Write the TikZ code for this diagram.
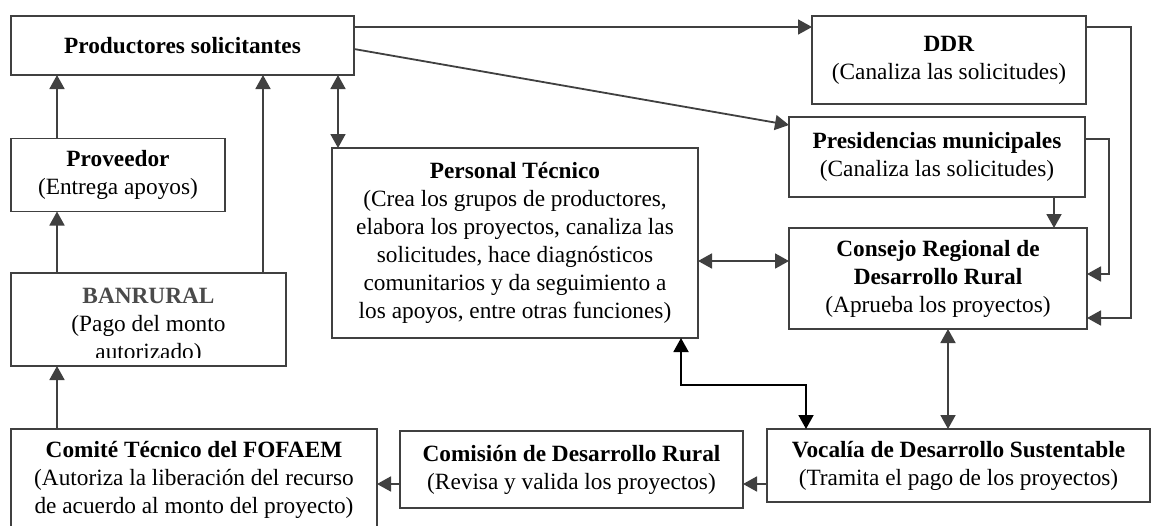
\documentclass[tikz,border=0pt]{standalone}
\usepackage{fontspec}
\setmainfont{Liberation Serif}
\usetikzlibrary{arrows.meta,calc}
\definecolor{lc}{HTML}{404040}
\definecolor{bantxt}{HTML}{4A4A4A}
\tikzset{
  box/.style={draw=lc, line width=1.8pt, outer sep=0pt, inner sep=0pt, align=center,
    font=\fontsize{23.3}{28}\selectfont},
  tip/.tip={Triangle[length=14pt,width=15pt]},
  arr/.style={draw=lc, line width=1.8pt, -tip},
  darr/.style={draw=lc, line width=1.8pt, tip-tip},
  barr/.style={draw=black, line width=1.9pt, tip-tip},
  ln/.style={draw=lc, line width=1.8pt}
}
\begin{document}
\begin{tikzpicture}[x=1pt,y=-1pt]
\clip (0,0) rectangle (1151,525);
\fill[white] (0,0) rectangle (1151,525);
% boxes
\node[box, minimum width=343, minimum height=59] (prod) at (182.5,45.5) {\textbf{Productores solicitantes}};
\node[box, minimum width=214, minimum height=73] (prov) at (118,175) {\textbf{Proveedor}\\(Entrega apoyos)};
\node[box, minimum width=275, minimum height=93] (ban) at (148.5,319.5) {};
\begin{scope}
\clip (11,273) rectangle (286,357);
\node[align=center, inner sep=0pt, font=\fontsize{23.3}{28}\selectfont] (bantext) at (148.5,326) {\textcolor{bantxt}{\textbf{BANRURAL}}\\(Pago del monto\\autorizado)};
\end{scope}
\node[box, minimum width=366, minimum height=101] (comite) at (194,479.5) {\textbf{Comité Técnico del FOFAEM}\\(Autoriza la liberación del recurso\\de acuerdo al monto del proyecto)};
\node[box, minimum width=366, minimum height=190] (pt) at (515,243) {\textbf{Personal Técnico}\\(Crea los grupos de productores,\\elabora los proyectos, canaliza las\\solicitudes, hace diagnósticos\\comunitarios y da seguimiento a\\los apoyos, entre otras funciones)};
\node[box, minimum width=274, minimum height=88] (ddr) at (949,60) {\textbf{DDR}\\(Canaliza las solicitudes)};
\node[box, minimum width=296, minimum height=80] (pres) at (937,157) {\textbf{Presidencias municipales}\\(Canaliza las solicitudes)};
\node[box, minimum width=298, minimum height=101] (cons) at (938,278.5) {\textbf{Consejo Regional de}\\\textbf{Desarrollo Rural}\\(Aprueba los proyectos)};
\node[box, minimum width=343, minimum height=77] (comis) at (571.5,469.5) {\textbf{Comisión de Desarrollo Rural}\\(Revisa y valida los proyectos)};
\node[box, minimum width=383, minimum height=73] (voc) at (958.5,465.5) {\textbf{Vocalía de Desarrollo Sustentable}\\(Tramita el pago de los proyectos)};
% connectors
\draw[arr] (prov.north -| 57,0) -- (prod.south -| 57,0);
\draw[arr] (ban.north -| 57,0) -- (prov.south -| 57,0);
\draw[arr] (263,0 |- ban.north) -- (263,0 |- prod.south);
\draw[arr] (57,0 |- comite.north) -- (57,0 |- ban.south);
\draw[darr] (338,0 |- prod.south) -- (338,0 |- pt.north);
\draw[arr] (prod.east |- 0,27) -- (ddr.west |- 0,27);
\draw[arr] (prod.east |- 0,49) -- (pres.west |- 0,125);
\draw[arr] (ddr.east |- 0,27) -- (1131,27) -- (1131,318) -- (cons.east |- 0,318);
\draw[arr] (pres.east |- 0,139) -- (1109,139) -- (1109,274) -- (cons.east |- 0,274);
\draw[arr] (1054,0 |- pres.south) -- (1054,0 |- cons.north);
\draw[darr] (pt.east |- 0,261) -- (cons.west |- 0,261);
\draw[darr] (948,0 |- cons.south) -- (948,0 |- voc.north);
\draw[barr] (681,0 |- pt.south) -- (681,385) -- (806,385) -- (806,0 |- voc.north);
\draw[arr] (voc.west |- 0,484) -- (comis.east |- 0,484);
\draw[arr] (comis.west |- 0,484) -- (comite.east |- 0,484);
\end{tikzpicture}
\end{document}
